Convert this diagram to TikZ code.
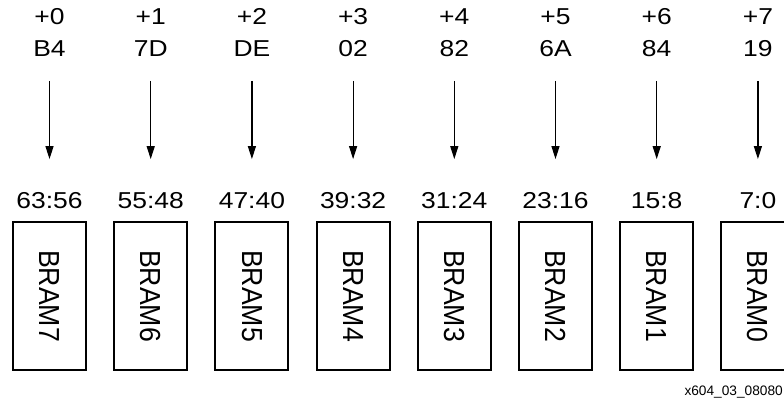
\documentclass[tikz,border=0pt]{standalone}
\usepackage{fontspec}
\setmainfont{Liberation Sans}
\newfontfamily\widefont[FakeStretch=1.15]{Liberation Sans}
\newfontfamily\narrowfont[FakeStretch=0.92]{Liberation Sans}
\usetikzlibrary{arrows.meta}
\begin{document}
\begin{tikzpicture}[x=1pt,y=-1pt,
  label/.style={anchor=base,inner sep=0pt,text height=17pt,text depth=5pt,
    font=\widefont\fontsize{23}{23}\selectfont},
  bram/.style={draw,line width=2pt,rotate=-90,minimum width=148pt,minimum height=73pt,
    inner sep=0pt,font=\narrowfont\fontsize{29}{29}\selectfont},
  feed/.style={line width=1.2pt,-{Triangle[length=13pt,width=8pt]},
    shorten <=19pt,shorten >=32pt},
  tag/.style={anchor=base east,inner sep=0pt,font=\fontsize{13.7}{13.7}\selectfont}]
\useasboundingbox (0,0) rectangle (784,398);
\foreach \k/\v/\bits in {0/B4/63:56,1/7D/55:48,2/DE/47:40,3/02/39:32,
                         4/82/31:24,5/6A/23:16,6/84/15:8,7/19/7:0}{
  \pgfmathsetmacro\x{49.5+101.2*\k}
  \pgfmathtruncatemacro\b{7-\k}
  % byte offset, byte value, bit range and the block RAM receiving it
  \node[label] (off\k) at (\x,25) {+\k};
  \node[label] (val\k) at (\x,56.7) {\v};
  \node[label] (bits\k) at (\x,208.3) {\bits};
  \node[bram] (bram\k) at (\x,296) {BRAM\b};
  \draw[feed] (val\k.south) -- (bits\k.north);
}
\node[tag] (fig) at (783,395) {x604\_03\_08080};
\end{tikzpicture}
\end{document}
